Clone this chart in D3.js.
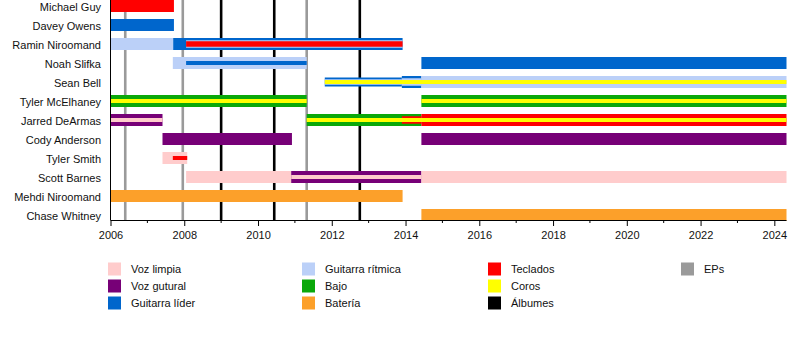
<!DOCTYPE html>
<html>
<head>
<meta charset="utf-8">
<script src="https://cdn.jsdelivr.net/npm/d3@7"></script>
<style>
  html, body { margin: 0; padding: 0; background: #fff; }
  svg { display: block; font-family: "Liberation Sans", Arial, sans-serif; }
</style>
</head>
<body>
<svg id="chart" width="800" height="340"></svg>
<script>
// Band members, top to bottom
const members = [
  "Michael Guy", "Davey Owens", "Ramin Niroomand", "Noah Slifka", "Sean Bell",
  "Tyler McElhaney", "Jarred DeArmas", "Cody Anderson", "Tyler Smith",
  "Scott Barnes", "Mehdi Niroomand", "Chase Whitney"
];

// Roles shown in the legend (legend is filled column by column)
const roles = [
  "Voz limpia", "Voz gutural", "Guitarra líder",
  "Guitarra rítmica", "Bajo", "Batería",
  "Teclados", "Coros", "Álbumes",
  "EPs"
];
const roleColors = [
  "#ffcccc", "#770077", "#0066cc",
  "#bbd0f8", "#0aa80a", "#fca02a",
  "#ff0000", "#ffff00", "#000000",
  "#9a9a9a"
];

// Release dates (decimal years)
const albums = [2009.0, 2010.44, 2012.76];
const eps = [2006.4, 2007.96, 2011.32];

// Axis
const yearStart = 2006;
const yearEnd = 2024.33;
const tickYears = [2006, 2008, 2010, 2012, 2014, 2016, 2018, 2020, 2022, 2024];

// Membership spans: [member, role, from, to, layer]
// layer 0 = main role (full bar); higher layers are thinner and drawn on top
const tenures = [
  ["Michael Guy", "Teclados", 2006, 2007.72, 0],
  ["Davey Owens", "Guitarra líder", 2006, 2007.72, 0],
  ["Ramin Niroomand", "Guitarra rítmica", 2006, 2007.7, 0],
  ["Ramin Niroomand", "Guitarra líder", 2007.7, 2013.92, 0],
  ["Ramin Niroomand", "Guitarra rítmica", 2008.05, 2013.92, 2],
  ["Ramin Niroomand", "Teclados", 2008.05, 2013.92, 3],
  ["Noah Slifka", "Guitarra rítmica", 2007.69, 2011.32, 0],
  ["Noah Slifka", "Guitarra líder", 2008.05, 2011.32, 4],
  ["Noah Slifka", "Guitarra líder", 2014.43, 2024.33, 0],
  ["Sean Bell", "Guitarra líder", 2011.81, 2013.9, 1],
  ["Sean Bell", "Guitarra rítmica", 2011.81, 2013.9, 3],
  ["Sean Bell", "Guitarra líder", 2013.9, 2014.43, 0],
  ["Sean Bell", "Guitarra rítmica", 2013.9, 2014.43, 2],
  ["Sean Bell", "Guitarra rítmica", 2014.43, 2024.33, 0],
  ["Sean Bell", "Coros", 2011.81, 2024.33, 4],
  ["Tyler McElhaney", "Bajo", 2006, 2011.32, 0],
  ["Tyler McElhaney", "Coros", 2006, 2011.32, 4],
  ["Tyler McElhaney", "Bajo", 2014.43, 2024.33, 0],
  ["Tyler McElhaney", "Coros", 2014.43, 2024.33, 4],
  ["Jarred DeArmas", "Voz gutural", 2006, 2007.41, 0],
  ["Jarred DeArmas", "Voz limpia", 2006, 2007.41, 4],
  ["Jarred DeArmas", "Bajo", 2011.32, 2014.43, 0],
  ["Jarred DeArmas", "Teclados", 2013.9, 2014.43, 2],
  ["Jarred DeArmas", "Teclados", 2014.43, 2024.33, 0],
  ["Jarred DeArmas", "Coros", 2011.32, 2024.33, 4],
  ["Cody Anderson", "Voz gutural", 2007.41, 2010.92, 0],
  ["Cody Anderson", "Voz gutural", 2014.43, 2024.33, 0],
  ["Tyler Smith", "Voz limpia", 2007.41, 2008.08, 0],
  ["Tyler Smith", "Teclados", 2007.69, 2008.08, 4],
  ["Scott Barnes", "Voz limpia", 2008.05, 2010.9, 0],
  ["Scott Barnes", "Voz gutural", 2010.9, 2014.43, 0],
  ["Scott Barnes", "Voz limpia", 2010.9, 2014.43, 4],
  ["Scott Barnes", "Voz limpia", 2014.43, 2024.33, 0],
  ["Mehdi Niroomand", "Batería", 2006, 2013.92, 0],
  ["Chase Whitney", "Batería", 2014.43, 2024.33, 0]
];

const svg = d3.select("#chart");
const color = d3.scaleOrdinal().domain(roles).range(roleColors);

const plotTop = 0, plotBottom = 220;
const x = d3.scaleLinear().domain([yearStart, yearEnd]).range([110.5, 786.5]);
// 19px per row, 12px bar
const y = d3.scaleBand().domain(members).range([0, 221]).paddingInner(7 / 19).paddingOuter(0);
const barH = d3.scaleOrdinal().domain([0, 1, 2, 3, 4]).range([12, 9, 7.5, 5.5, 4]);

// Release markers behind the bars
svg.append("g").selectAll("line").data(eps).join("line")
  .attr("x1", d => x(d)).attr("x2", d => x(d))
  .attr("y1", plotTop).attr("y2", plotBottom)
  .attr("stroke", color("EPs")).attr("stroke-width", 2.6);
svg.append("g").selectAll("line").data(albums).join("line")
  .attr("x1", d => x(d)).attr("x2", d => x(d))
  .attr("y1", plotTop).attr("y2", plotBottom)
  .attr("stroke", color("Álbumes")).attr("stroke-width", 2.6);

// Bars, main layer first so thinner layers sit on top
const sorted = tenures.slice().sort((a, b) => a[4] - b[4]);
svg.append("g").selectAll("rect").data(sorted).join("rect")
  .attr("x", d => x(d[2]))
  .attr("width", d => x(d[3]) - x(d[2]))
  .attr("y", d => y(d[0]) + (y.bandwidth() - barH(d[4])) / 2)
  .attr("height", d => barH(d[4]))
  .attr("fill", d => color(d[1]));

// Member names
svg.append("g").selectAll("text").data(members).join("text")
  .attr("x", 101)
  .attr("y", d => y(d) + y.bandwidth() / 2 + 1)
  .attr("dy", "0.36em")
  .attr("text-anchor", "end")
  .attr("font-size", 11)
  .attr("fill", "#111")
  .text(d => d);

// Left frame line
svg.append("line")
  .attr("x1", 110.5).attr("x2", 110.5)
  .attr("y1", plotTop).attr("y2", plotBottom)
  .attr("stroke", "#000").attr("stroke-width", 1);

// Time axis: labelled ticks every two years, minor ticks yearly
const axis = d3.axisBottom(x)
  .tickValues(tickYears)
  .tickFormat(d3.format("d"))
  .tickSize(6)
  .tickSizeOuter(0)
  .tickPadding(5);
const gAxis = svg.append("g").attr("transform", `translate(0,${plotBottom})`).call(axis);
gAxis.select(".domain").attr("stroke", "#000").attr("d", "M110.5,0.5H786.5");
gAxis.selectAll(".tick line").attr("stroke", "#000");
gAxis.selectAll(".tick text").attr("font-size", 11).attr("fill", "#111")
  .attr("font-family", "Liberation Sans, Arial, sans-serif");

const minorYears = d3.range(2007, 2025, 2);
svg.append("g").selectAll("line").data(minorYears).join("line")
  .attr("x1", d => x(d)).attr("x2", d => x(d))
  .attr("y1", plotBottom).attr("y2", plotBottom + 3)
  .attr("stroke", "#000");

// Legend: three rows per column
const legendCols = [108, 302, 488, 681];
const legendRows = [269, 286, 303];
const legend = svg.append("g").selectAll("g").data(roles).join("g")
  .attr("transform", (d, i) => `translate(${legendCols[Math.floor(i / 3)]},${legendRows[i % 3]})`);
legend.append("rect")
  .attr("x", 0).attr("y", -6.5).attr("width", 13).attr("height", 13)
  .attr("fill", d => color(d));
legend.append("text")
  .attr("x", 23).attr("y", 0).attr("dy", "0.36em")
  .attr("font-size", 11).attr("fill", "#111")
  .text(d => d);
</script>
</body>
</html>
